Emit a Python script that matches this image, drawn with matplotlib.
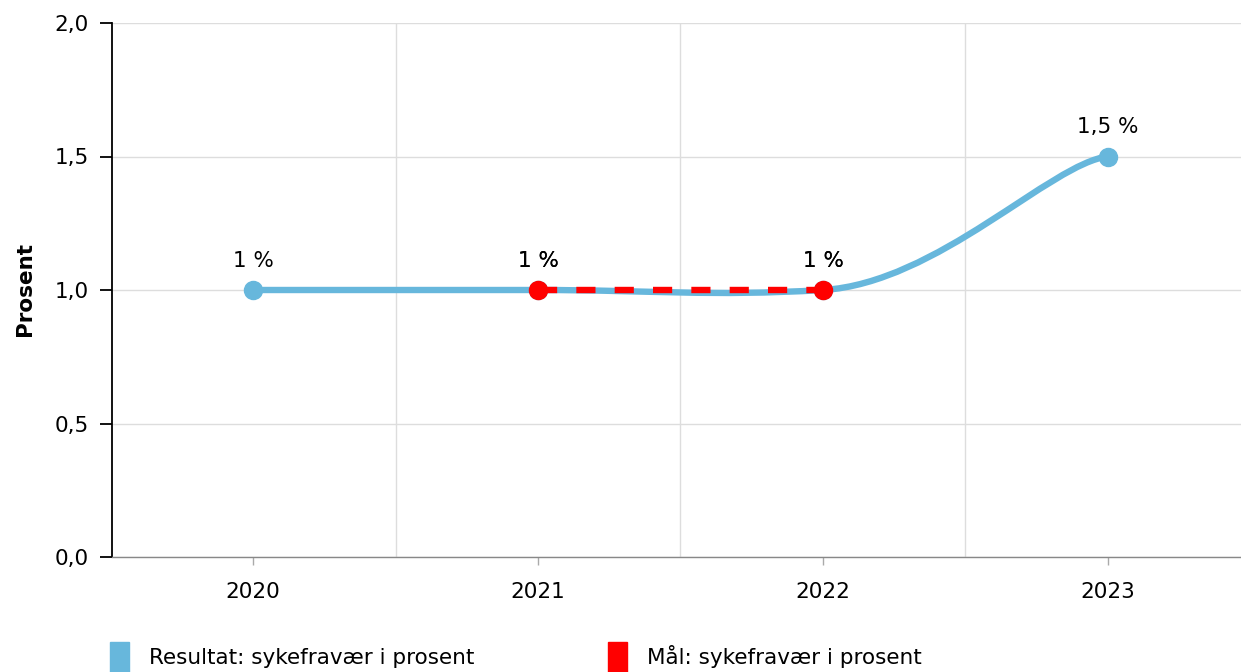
import numpy as np
import matplotlib.pyplot as plt
from matplotlib.path import Path
from matplotlib.patches import PathPatch, Rectangle
from matplotlib.ticker import FuncFormatter

# data
years = ['2020', '2021', '2022', '2023']
resultat = [1.0, 1.0, 1.0, 1.5]
maal_idx = [1, 2]          # 2021, 2022
maal = [1.0, 1.0]

blue = '#67b7dc'
red = '#ff0000'
fs = 15.5
plt.rcParams['font.family'] = ['DejaVu Sans']


def spline_path(xs, ys, tension_x=0.8, tension_y=0.95):
    # tension smoothing: cubic bezier, control points from neighbour points
    tx = 1 - tension_x
    ty = 1 - tension_y
    n = len(xs)
    pts = list(zip(xs, ys))
    verts = [pts[0]]
    codes = [Path.MOVETO]
    for i in range(n - 1):
        p0 = pts[max(i - 1, 0)]
        p1 = pts[i]
        p2 = pts[i + 1]
        p3 = pts[min(i + 2, n - 1)]
        ca = (p1[0] + tx * (p2[0] - p0[0]), p1[1] + ty * (p2[1] - p0[1]))
        cb = (p2[0] - tx * (p3[0] - p1[0]), p2[1] - ty * (p3[1] - p1[1]))
        verts += [ca, cb, p2]
        codes += [Path.CURVE4] * 3
    return Path(verts, codes)


fig = plt.figure(figsize=(12.41, 6.72), dpi=100)
ax = fig.add_axes([112 / 1241, 115 / 672, 1129 / 1241, 534 / 672])

x = np.arange(len(years))
ax.add_patch(PathPatch(spline_path(x, resultat), fill=False, edgecolor=blue,
                       lw=4.6, capstyle='round', zorder=3))
ax.plot(x, resultat, 'o', color=blue, ms=13, zorder=4)
ax.plot(maal_idx, maal, color=red, lw=4.6, dashes=(3, 3), zorder=5)
ax.plot(maal_idx, maal, 'o', color=red, ms=13, zorder=6)

def fmt(v):
    return f'{v:g}'.replace('.', ',') + ' %'

for xi, v in zip(x, resultat):
    ax.annotate(fmt(v), (xi, v), xytext=(0, 14), textcoords='offset points',
                ha='center', va='bottom', fontsize=fs, color='black', zorder=7)
for xi, v in zip(maal_idx, maal):
    ax.annotate(fmt(v), (xi, v), xytext=(0, 14), textcoords='offset points',
                ha='center', va='bottom', fontsize=fs, color='black', zorder=7)

ax.set_xlim(-0.495, 3.467)
ax.set_ylim(0, 2.0)
ax.set_xticks(x)
ax.set_xticklabels(years)
ax.set_yticks([0, 0.5, 1.0, 1.5, 2.0])
ax.yaxis.set_major_formatter(FuncFormatter(lambda v, p: f'{v:.1f}'.replace('.', ',')))
ax.set_xticks([0.5, 1.5, 2.5], minor=True)
ax.tick_params(axis='x', which='minor', length=0)
ax.grid(True, axis='y', color='#dddddd', lw=1)
ax.grid(True, axis='x', which='minor', color='#dddddd', lw=1)
ax.set_axisbelow(True)

for s in ['top', 'right']:
    ax.spines[s].set_visible(False)
ax.spines['left'].set_color('black')
ax.spines['left'].set_linewidth(1.3)
ax.spines['bottom'].set_color('#888888')
ax.spines['bottom'].set_linewidth(1)
ax.tick_params(axis='y', length=8.5, width=1.3, color='black', pad=8, labelsize=fs)
ax.tick_params(axis='x', which='major', length=6, width=1, color='#aaaaaa', pad=12, labelsize=fs)

fig.text(25 / 1241, 1 - 289 / 672, 'Prosent', rotation=90, fontsize=fs,
         fontweight='bold', ha='center', va='center')

# legend
for px, col, label in [(110, blue, 'Resultat: sykefravær i prosent'),
                       (608, red, 'Mål: sykefravær i prosent')]:
    fig.add_artist(Rectangle((px / 1241, 0), 19 / 1241, 30 / 672,
                             transform=fig.transFigure, color=col))
    fig.text((px + 39) / 1241, 1 - 664 / 672, label, fontsize=fs,
             ha='left', va='baseline')

fig.savefig('out.png', dpi=100)
